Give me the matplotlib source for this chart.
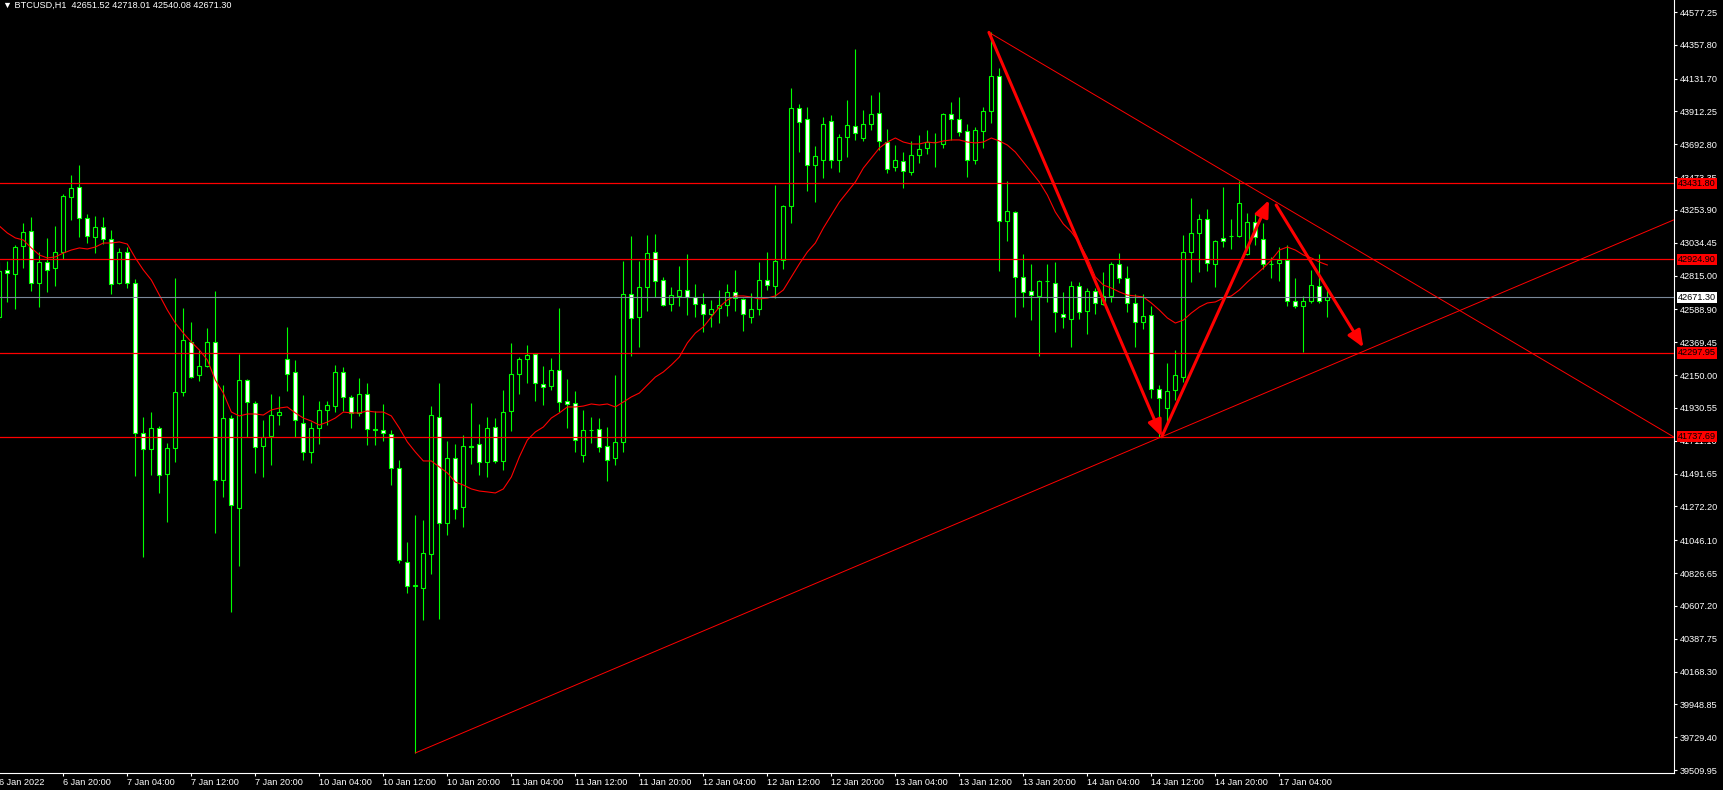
import numpy as np
import matplotlib
matplotlib.use("Agg")
import matplotlib.pyplot as plt
import matplotlib.transforms as mtransforms

plt.rcParams['font.family'] = ['Liberation Sans', 'DejaVu Sans']

# ---------------------------------------------------------------
# BTCUSD H1, bars from 6 Jan 2022 12:00 to 17 Jan 2022 10:00
symbol = "BTCUSD,H1"
last_ohlc = [42651.52, 42718.01, 42540.08, 42671.30]

o = [42538, 42853, 42826, 43013, 43113, 42766, 42906, 42866, 42973, 43341,
     43407, 43200, 43073, 43140, 43060, 42766, 42973, 42766, 41763, 41656,
     41796, 41489, 41663, 42037, 42371, 42151, 42211, 42371, 41449, 41863,
     41262, 42117, 41963, 41676, 41743, 41883, 42258, 42171, 41830, 41636,
     41796, 41917, 41943, 42171, 42004, 41897, 42024, 41790, 41783, 41756,
     41529, 40901, 40740, 40727, 40954, 41870, 41161, 41596, 41268, 41676,
     41689, 41569, 41803, 41576, 41910, 42157, 42258, 42291, 42090, 42077,
     42184, 41977, 41963, 41616, 41786, 41790, 41676, 41596, 41703, 42692,
     42538, 42739, 42973, 42786, 42625, 42679, 42719, 42672, 42625, 42558,
     42599, 42619, 42706, 42659, 42538, 42592, 42786, 42746, 42919, 43280,
     43936, 43862, 43555, 43588, 43849, 43588, 43742, 43815, 43735, 43829,
     43902, 43708, 43541, 43581, 43508, 43621, 43668, 43710, 43695, 43895,
     43862, 43782, 43588, 43782, 43916, 44149, 43180, 43240, 42806, 42712,
     42679, 42781, 42766, 42558, 42525, 42746, 42578, 42712, 42625, 42679,
     42893, 42799, 42632, 42505, 42552, 42057, 41930, 42050, 42137, 42973,
     43100, 43194, 42893, 43067, 43082, 43080, 42960, 43174, 43060, 42895,
     42899, 42919, 42645, 42612, 42645, 42746, 42651.52]
h = [42906, 42913, 43020, 43167, 43207, 42973, 43067, 43147, 43361, 43488,
     43555, 43227, 43214, 43207, 43120, 43000, 43006, 42792, 41870, 41903,
     41810, 41696, 42799, 42599, 42505, 42318, 42465, 42712, 42084, 41883,
     42291, 42125, 41977, 41850, 42024, 42010, 42472, 42251, 42017, 41836,
     41977, 41977, 42218, 42204, 42017, 42131, 42097, 41910, 41957, 41783,
     41582, 41034, 41215, 41181, 41943, 42097, 41709, 41689, 41750, 41963,
     41823, 41870, 41863, 42050, 42365, 42271, 42351, 42298, 42211, 42264,
     42599, 42124, 42044, 41917, 41870, 41863, 41803, 42151, 42913, 43080,
     42913, 43086, 43093, 42806, 42739, 42879, 42960, 42759, 42699, 42652,
     42719, 42759, 42853, 42665, 42699, 42906, 42973, 43421, 43287, 44069,
     43962, 43942, 43682, 43875, 43889, 43762, 43989, 44330, 43922, 44022,
     44042, 43795, 43688, 43641, 43715, 43755, 43788, 43768, 43900, 43976,
     44009, 43829, 43809, 43942, 44444, 44203, 43448, 43247, 42960, 42893,
     42786, 42893, 42906, 42706, 42779, 42772, 42732, 42732, 42839, 42906,
     42966, 42879, 42692, 42692, 42612, 42084, 42231, 42318, 43087, 43334,
     43227, 43260, 43053, 43407, 43194, 43448, 43234, 43234, 43167, 42940,
     43006, 43020, 42799, 42679, 42853, 42960, 42718.01]
l = [42518, 42639, 42592, 42866, 42712, 42605, 42706, 42746, 42926, 43187,
     43073, 43033, 42966, 43026, 42692, 42759, 42732, 41475, 40934, 41482,
     41362, 41168, 41569, 42010, 42131, 42111, 42204, 41094, 41335, 40566,
     40874, 41736, 41496, 41469, 41549, 41816, 42044, 41736, 41582, 41562,
     41689, 41816, 41903, 41910, 41796, 41877, 41683, 41683, 41709, 41415,
     40894, 40693, 39624, 40513, 40820, 40520, 41081, 41188, 41135, 41556,
     41482, 41469, 41562, 41516, 41776, 42024, 42097, 41977, 41950, 42050,
     41903, 41796, 41636, 41569, 41696, 41636, 41442, 41549, 41636, 42278,
     42338, 42578, 42672, 42612, 42578, 42612, 42552, 42538, 42438, 42472,
     42498, 42545, 42578, 42445, 42498, 42552, 42719, 42665, 42859, 43167,
     43641, 43381, 43307, 43468, 43534, 43508, 43608, 43722, 43715, 43788,
     43655, 43501, 43514, 43401, 43488, 43568, 43628, 43541, 43668, 43722,
     43748, 43474, 43561, 43668, 43835, 42846, 43046, 42538, 42605, 42518,
     42278, 42639, 42438, 42465, 42338, 42525, 42425, 42558, 42619, 42639,
     42766, 42572, 42338, 42458, 41997, 41737.69, 41816, 41984, 42104, 42772,
     42839, 42846, 42739, 43006, 42993, 43075, 42955, 43020, 42859, 42799,
     42779, 42612, 42599, 42304, 42632, 42632, 42540.08]
c = [42846, 42833, 43006, 43107, 42766, 42906, 42853, 42973, 43347, 43401,
     43200, 43080, 43140, 43060, 42759, 42973, 42766, 41763, 41656, 41796,
     41482, 41663, 42037, 42385, 42137, 42211, 42371, 41449, 41863, 41282,
     42117, 41970, 41669, 41736, 41883, 41903, 42157, 41850, 41636, 41796,
     41917, 41950, 42171, 42004, 41897, 42024, 41790, 41783, 41763, 41529,
     40914, 40740, 40747, 40961, 41883, 41161, 41596, 41255, 41676, 41669,
     41569, 41796, 41576, 41903, 42157, 42258, 42284, 42097, 42070, 42184,
     41970, 41957, 41716, 41783, 41783, 41669, 41582, 41703, 42692, 42532,
     42739, 42966, 42779, 42619, 42685, 42719, 42672, 42625, 42558, 42592,
     42619, 42706, 42665, 42558, 42592, 42786, 42752, 42913, 43280, 43936,
     43842, 43555, 43615, 43829, 43588, 43742, 43822, 43768, 43829, 43895,
     43715, 43528, 43588, 43514, 43621, 43661, 43708, 43706, 43895, 43862,
     43775, 43588, 43788, 43916, 44149, 43180, 43247, 42806, 42706, 42685,
     42779, 42777, 42572, 42538, 42746, 42572, 42712, 42632, 42679, 42893,
     42799, 42632, 42505, 42545, 42057, 41997, 42044, 42151, 42973, 43100,
     43194, 42899, 43046, 43046, 43078, 43300, 43174, 43073, 42893, 42891,
     42919, 42645, 42612, 42645, 42752, 42645, 42671.30]
ma = [43147, 43100, 43067, 43053, 43000, 42953, 42933, 42940, 42966, 42986,
      43000, 42993, 43006, 43033, 43033, 43040, 43026, 42933, 42853, 42786,
      42685, 42585, 42498, 42431, 42371, 42318, 42251, 42117, 42030, 41903,
      41877, 41890, 41890, 41883, 41917, 41930, 41937, 41897, 41863, 41843,
      41816, 41836, 41863, 41903, 41897, 41897, 41910, 41903, 41903, 41877,
      41796, 41703, 41636, 41576, 41576, 41536, 41496, 41435, 41415, 41389,
      41375, 41369, 41362, 41389, 41469, 41603, 41716, 41770, 41803, 41863,
      41897, 41937, 41937, 41943, 41957, 41950, 41957, 41937, 41970, 42004,
      42030, 42084, 42137, 42171, 42218, 42271, 42365, 42431, 42472, 42538,
      42605, 42652, 42679, 42679, 42672, 42659, 42665, 42679, 42719, 42806,
      42893, 42973, 43033, 43133, 43220, 43307, 43374, 43441, 43534, 43601,
      43668, 43708, 43735, 43708, 43695, 43695, 43708, 43702, 43715, 43722,
      43722, 43708, 43702, 43708, 43735, 43715, 43688, 43641, 43574, 43508,
      43441, 43354, 43240, 43160, 43107, 43033, 42933, 42806, 42752, 42732,
      42706, 42685, 42679, 42672, 42632, 42585, 42532, 42498, 42518, 42565,
      42605, 42632, 42639, 42665, 42679, 42719, 42772, 42819, 42866, 42919,
      42986, 43006, 42986, 42953, 42933, 42906, 42886]

first_label = "6 Jan 2022"
time_ticks = [8, 16, 24, 32, 40, 48, 56, 64, 72, 80, 88, 96, 104, 112, 120,
              128, 136, 144, 152, 160]
time_labels = ["6 Jan 20:00", "7 Jan 04:00", "7 Jan 12:00", "7 Jan 20:00",
               "10 Jan 04:00", "10 Jan 12:00", "10 Jan 20:00", "11 Jan 04:00",
               "11 Jan 12:00", "11 Jan 20:00", "12 Jan 04:00", "12 Jan 12:00",
               "12 Jan 20:00", "13 Jan 04:00", "13 Jan 12:00", "13 Jan 20:00",
               "14 Jan 04:00", "14 Jan 12:00", "14 Jan 20:00", "17 Jan 04:00"]

price_ticks = [44577.25, 44357.80, 44131.70, 43912.25, 43692.80, 43473.35,
               43253.90, 43034.45, 42815.00, 42588.90, 42369.45, 42150.00,
               41930.55, 41711.10, 41491.65, 41272.20, 41046.10, 40826.65,
               40607.20, 40387.75, 40168.30, 39948.85, 39729.40, 39509.95]

levels = [43431.80, 42924.90, 42297.95, 41737.69]
bid = 42671.30

# drawing objects (bar index, price)
trend_up = [(52, 39624), (145.3, 41737.69)]
trend_down = [(123.7, 44441), (155, 43452)]
arrows = [((123.7, 44441), (145.3, 41737.69)),
          ((145.3, 41737.69), (158.7, 43320)),
          ((159.6, 43287), (170.5, 42335))]

# ---------------------------------------------------------------
GREEN = '#00ff00'
FS = 6.6
x = np.arange(len(c))
o_ = np.array(o); c_ = np.array(c)
bull = c_ >= o_

fig = plt.figure(figsize=(17.24, 7.90), dpi=100, facecolor='black')
ax = fig.add_axes([0, 17 / 790, 1674 / 1724, 773 / 790])
ax.set_facecolor('black')
xmin, xmax = 0.084, 209.33
ax.set_xlim(xmin, xmax)
ax.set_ylim(39490.0, 44657.5)

# candles
ax.vlines(x, l, h, color=GREEN, lw=0.8, zorder=2)
bottom = np.minimum(o_, c_)
height = np.abs(c_ - o_)
ax.bar(x, height, bottom=bottom, width=0.5,
       color=np.where(bull, 'black', 'white'), edgecolor=GREEN,
       linewidth=0.8, zorder=3)

# moving average
ax.plot(x, ma, color='red', lw=0.8, zorder=4)

# horizontal levels and bid line
for lv in levels:
    ax.axhline(lv, color='red', lw=0.9, zorder=5)
ax.axhline(bid, color='#7a8899', lw=0.8, zorder=5)

# trend rays
for (x1, y1), (x2, y2) in (trend_up, trend_down):
    k = (y2 - y1) / (x2 - x1)
    ax.plot([x1, xmax], [y1, y1 + k * (xmax - x1)], color='red', lw=0.7,
            zorder=5)

# arrows
for (p0, p1) in arrows:
    ax.annotate('', xy=p1, xytext=p0,
                arrowprops=dict(arrowstyle='-|>,head_length=1.0,head_width=0.42',
                                color='red', lw=2.2, shrinkA=0, shrinkB=0,
                                mutation_scale=10),
                zorder=6)

# axes look
for s in ('top', 'left'):
    ax.spines[s].set_visible(False)
for s in ('right', 'bottom'):
    ax.spines[s].set_color('white')
    ax.spines[s].set_linewidth(0.8)

ax.yaxis.tick_right()
ax.set_yticks(price_ticks)
ax.set_yticklabels([f"{v:.2f}" for v in price_ticks])
ax.tick_params(axis='y', colors='white', direction='out', length=2.2,
               width=0.8, pad=2.2, labelsize=FS)
ax.set_xticks(time_ticks)
ax.set_xticklabels(time_labels, ha='left')
ax.tick_params(axis='x', colors='white', direction='out', length=2.2,
               width=0.8, pad=1.5, labelsize=FS)
ax.text(-0.0008, -5.1 / 773, first_label, transform=ax.transAxes, ha='left',
        va='top', color='white', fontsize=FS, clip_on=False)

# price labels on the axis
trans = mtransforms.blended_transform_factory(ax.transAxes, ax.transData)
for lv in levels:
    ax.text(1.0022, lv, f"{lv:.2f}", transform=trans, ha='left', va='center',
            fontsize=FS, color='black', clip_on=False, zorder=10,
            bbox=dict(boxstyle='square,pad=0.12', fc='red', ec='none'))
ax.text(1.0022, bid, f"{bid:.2f}", transform=trans, ha='left', va='center',
        fontsize=FS, color='black', clip_on=False, zorder=10,
        bbox=dict(boxstyle='square,pad=0.12', fc='white', ec='none'))

# header
header = "\u25BC " + symbol + "  " + " ".join(f"{v:.2f}" for v in last_ohlc)
ax.text(3 / 1674, 1 - 5 / 773, header, transform=ax.transAxes, ha='left',
        va='center', color='white', fontsize=FS)

fig.savefig('out.png', dpi=100, facecolor='black')
